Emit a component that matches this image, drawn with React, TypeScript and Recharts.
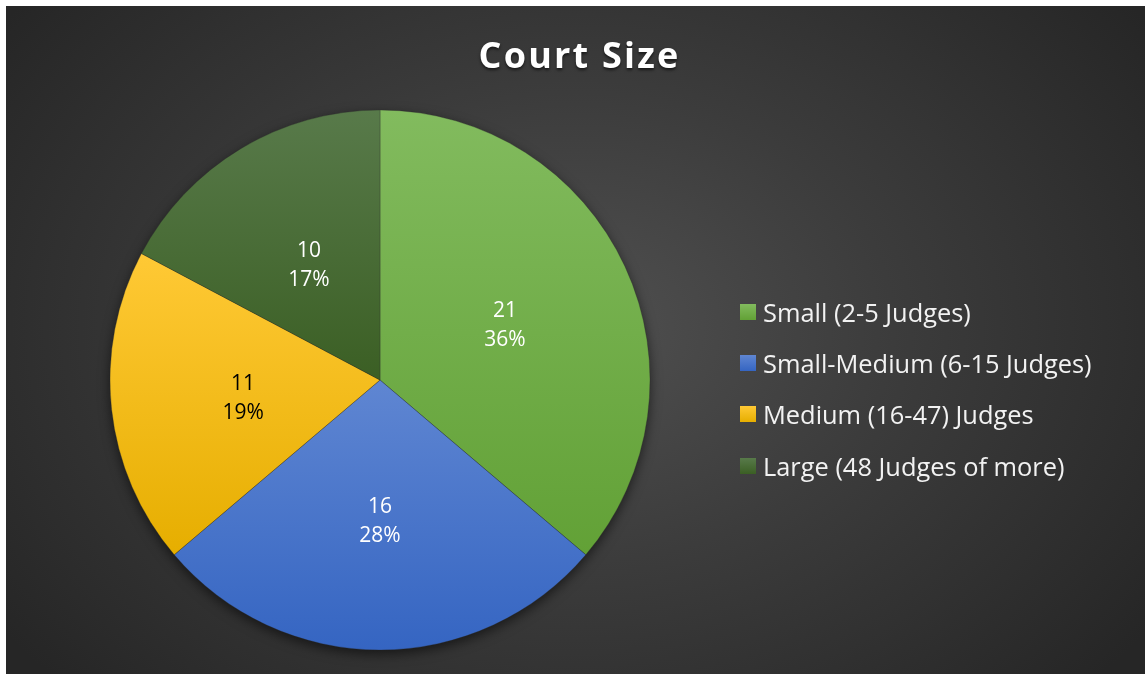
import { PieChart, Pie, Cell, Legend } from "recharts"

const CATEGORIES = [
  "Small (2-5 Judges)",
  "Small-Medium (6-15 Judges)",
  "Medium (16-47) Judges",
  "Large (48 Judges of more)",
]
const COUNTS = [21, 16, 11, 10]
const TOP_COLORS = ["#82bb5e", "#5f86d2", "#ffc935", "#587a4a"]
const BOTTOM_COLORS = ["#62a136", "#3565c2", "#e6ae00", "#3b5f24"]
const LABEL_COLORS = ["#ffffff", "#ffffff", "#000000", "#ffffff"]

const chartData = CATEGORIES.map((name, i) => ({ name, value: COUNTS[i] }))
const total = COUNTS.reduce((a, b) => a + b, 0)
const RADIAN = Math.PI / 180
const FONT = "'Open Sans', 'Noto Sans', sans-serif"

function SliceLabel(props: any) {
  const { cx, cy, midAngle, outerRadius, value, index } = props
  const r = outerRadius * 0.51
  const x = cx + r * Math.cos(-midAngle * RADIAN)
  const y = cy + r * Math.sin(-midAngle * RADIAN)
  const pct = Math.round((value / total) * 100)
  return (
    <text x={x} y={y} textAnchor="middle" fill={LABEL_COLORS[index]} fontSize={21} fontFamily={FONT}>
      <tspan x={x} dy={-5}>{value}</tspan>
      <tspan x={x} dy={29}>{pct}%</tspan>
    </text>
  )
}

function LegendList() {
  return (
    <div style={{ fontFamily: FONT }}>
      {CATEGORIES.map((name, i) => (
        <div key={name} style={{ display: "flex", alignItems: "center", height: 51.3 }}>
          <div
            style={{
              width: 16,
              height: 16,
              marginRight: 7,
              background: `linear-gradient(${TOP_COLORS[i]}, ${BOTTOM_COLORS[i]})`,
            }}
          />
          <span style={{ color: "#f2f2f2", fontSize: 25.4, whiteSpace: "nowrap" }}>{name}</span>
        </div>
      ))}
    </div>
  )
}

export default function App() {
  return (
    <div
      style={{
        position: "fixed",
        left: 6,
        top: 6,
        width: 1139,
        height: 668,
        background: "radial-gradient(ellipse 62% 78% at 50% 48%, #505050 0%, #3c3c3c 45%, #262626 100%)",
        overflow: "hidden",
      }}
    >
      <style>{`.recharts-pie { filter: drop-shadow(0px 4px 6px rgba(0,0,0,0.55)); }`}</style>
      <div
        style={{
          position: "absolute",
          left: 0,
          right: 0,
          top: 24,
          textAlign: "center",
          color: "#ffffff",
          fontFamily: FONT,
          fontWeight: 700,
          fontSize: 36,
          letterSpacing: 2.2,
          textShadow: "0 2px 3px rgba(0,0,0,0.6)",
          paddingLeft: 8,
        }}
      >
        Court Size
      </div>
      <PieChart width={1139} height={668} style={{ position: "absolute", left: 0, top: 0 }}>
        <defs>
          {TOP_COLORS.map((c, i) => (
            <linearGradient key={c} id={`slice${i}`} x1="0" y1="0" x2="0" y2="1">
              <stop offset="0%" stopColor={c} />
              <stop offset="100%" stopColor={BOTTOM_COLORS[i]} />
            </linearGradient>
          ))}
        </defs>
        <Pie
          data={chartData}
          dataKey="value"
          nameKey="name"
          cx={369}
          cy={369}
          outerRadius={270}
          startAngle={90}
          endAngle={-270}
          stroke="rgba(40,40,40,0.6)"
          strokeWidth={0.5}
          labelLine={false}
          label={SliceLabel}
          isAnimationActive={false}
        >
          {chartData.map((d, i) => (
            <Cell key={d.name} fill={`url(#slice${i})`} />
          ))}
        </Pie>
        <Legend
          layout="vertical"
          align="right"
          verticalAlign="top"
          wrapperStyle={{ position: "absolute", left: 734, top: 280, width: 400 }}
          content={() => <LegendList />}
        />
      </PieChart>
    </div>
  )
}
